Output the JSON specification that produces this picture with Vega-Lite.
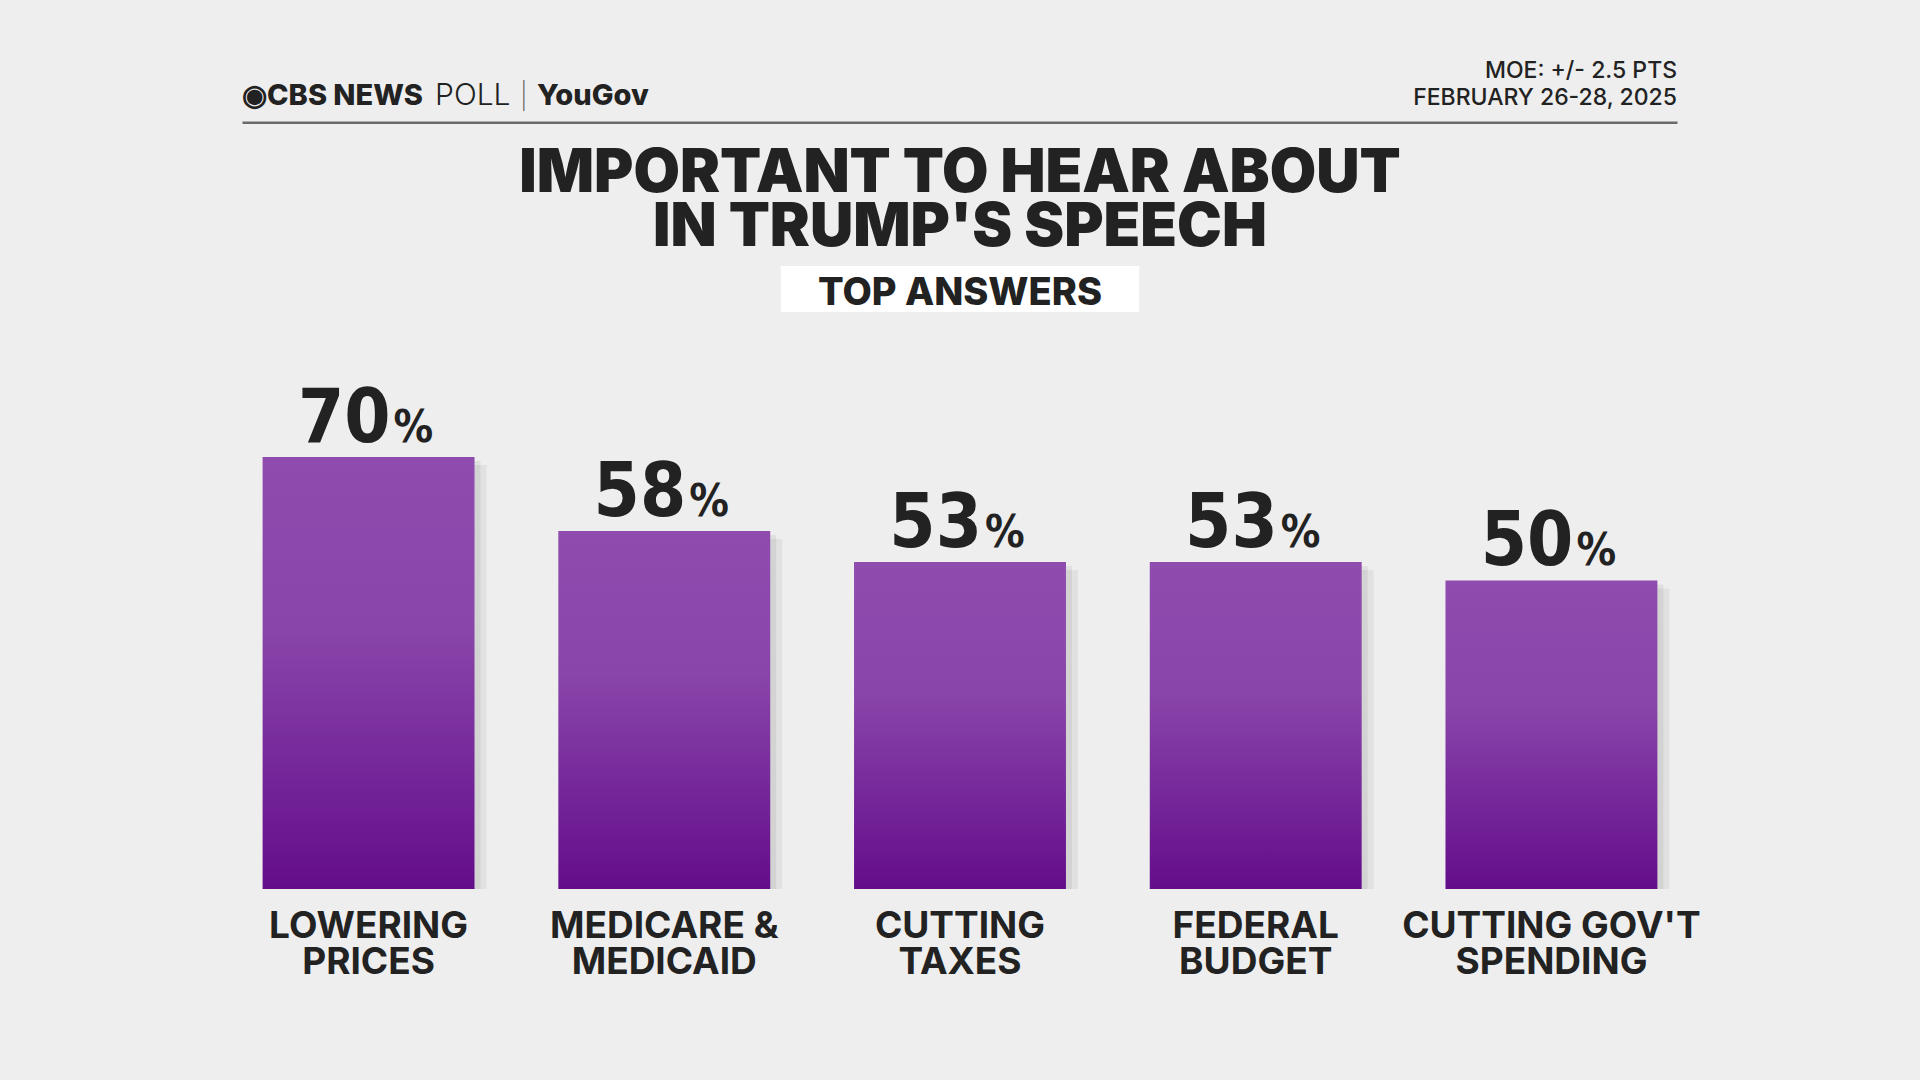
{
  "$schema": "https://vega.github.io/schema/vega-lite/v6.json",
  "width": 1920,
  "height": 1080,
  "autosize": {"type": "fit", "contains": "padding"},
  "padding": 0,
  "background": "#eeeeee",
  "config": {"view": {"stroke": null}, "text": {"font": "Inter", "color": "#222222"}},
  "datasets": {
    "answers": [
      {"answer": "LOWERING PRICES", "label": ["LOWERING", "PRICES"], "pct": 70},
      {"answer": "MEDICARE & MEDICAID", "label": ["MEDICARE &", "MEDICAID"], "pct": 58},
      {"answer": "CUTTING TAXES", "label": ["CUTTING", "TAXES"], "pct": 53},
      {"answer": "FEDERAL BUDGET", "label": ["FEDERAL", "BUDGET"], "pct": 53},
      {"answer": "CUTTING GOV'T SPENDING", "label": ["CUTTING GOV'T", "SPENDING"], "pct": 50}
    ],
    "header": [{"brand": "◉CBS NEWS", "poll": "POLL", "sep": "|", "partner": "YouGov", "moe": ["MOE: +/- 2.5 PTS", "FEBRUARY 26-28, 2025"]}],
    "titles": [{"title": ["IMPORTANT TO HEAR ABOUT", "IN TRUMP'S SPEECH"], "tag": "TOP ANSWERS"}]
  },
  "layer": [
    {
      "data": {"name": "answers"},
      "mark": {"type": "bar", "color": "#000000", "opacity": 0.05, "xOffset": 12, "yOffset": 8},
      "encoding": {
        "x": {
          "field": "answer", "type": "nominal", "sort": null, "axis": null,
          "scale": {
            "domain": ["LOWERING PRICES", "MEDICARE & MEDICAID", "CUTTING TAXES", "FEDERAL BUDGET", "CUTTING GOV'T SPENDING"],
            "paddingInner": 0.2834, "paddingOuter": 0.888
          }
        },
        "y": {"field": "pct", "type": "quantitative", "axis": null, "scale": {"domain": [-30.96, 144.08], "nice": false, "zero": false}},
        "y2": {"datum": 0}
      }
    },
    {
      "data": {"name": "answers"},
      "mark": {"type": "bar", "color": "#000000", "opacity": 0.06, "xOffset": 6, "yOffset": 4},
      "encoding": {
        "x": {"field": "answer", "type": "nominal", "sort": null, "axis": null},
        "y": {"field": "pct", "type": "quantitative", "axis": null},
        "y2": {"datum": 0}
      }
    },
    {
      "data": {"name": "answers"},
      "mark": {
        "type": "bar",
        "color": {
          "gradient": "linear",
          "x1": 0, "y1": 0, "x2": 0, "y2": 1,
          "stops": [
            {"offset": 0, "color": "#8f4bae"},
            {"offset": 0.4, "color": "#8945aa"},
            {"offset": 1, "color": "#640d8b"}
          ]
        }
      },
      "encoding": {
        "x": {"field": "answer", "type": "nominal", "sort": null, "axis": null},
        "y": {"field": "pct", "type": "quantitative", "axis": null},
        "y2": {"datum": 0}
      }
    },
    {
      "data": {"name": "answers"},
      "mark": {"type": "text", "font": "DejaVu Sans Condensed", "fontWeight": "bold", "fontSize": 74, "align": "right", "baseline": "alphabetic", "dx": 22, "dy": -15, "color": "#222222"},
      "encoding": {
        "x": {"field": "answer", "type": "nominal", "sort": null, "axis": null},
        "y": {"field": "pct", "type": "quantitative", "axis": null},
        "text": {"field": "pct", "type": "quantitative"}
      }
    },
    {
      "data": {"name": "answers"},
      "mark": {"type": "text", "font": "DejaVu Sans Condensed", "fontWeight": "bold", "fontSize": 44, "align": "left", "baseline": "alphabetic", "dx": 25, "dy": -15, "text": "%", "color": "#222222"},
      "encoding": {
        "x": {"field": "answer", "type": "nominal", "sort": null, "axis": null},
        "y": {"field": "pct", "type": "quantitative", "axis": null}
      }
    },
    {
      "data": {"name": "answers"},
      "mark": {"type": "text", "font": "Inter", "fontWeight": 700, "fontSize": 37, "lineHeight": 36, "align": "center", "baseline": "alphabetic", "dy": 49, "color": "#222222"},
      "encoding": {
        "x": {"field": "answer", "type": "nominal", "sort": null, "axis": null},
        "y": {"datum": 0, "axis": null},
        "text": {"field": "label"}
      }
    },
    {
      "data": {"name": "header"},
      "mark": {"type": "tick", "orient": "horizontal", "size": 1435, "thickness": 2.5, "color": "#6a6a6a", "opacity": 1},
      "encoding": {
        "x": {"datum": "CUTTING TAXES", "axis": null},
        "y": {"datum": 124.2, "axis": null}
      }
    },
    {
      "data": {"name": "header"},
      "mark": {"type": "text", "font": "Inter", "fontWeight": 800, "fontSize": 29, "align": "left", "baseline": "alphabetic"},
      "encoding": {
        "x": {"datum": "LOWERING PRICES", "bandPosition": -0.097, "axis": null},
        "y": {"datum": 127.1, "axis": null},
        "text": {"field": "brand"}
      }
    },
    {
      "data": {"name": "header"},
      "mark": {"type": "text", "font": "Inter", "fontWeight": 300, "fontSize": 30, "align": "left", "baseline": "alphabetic", "dx": 193},
      "encoding": {
        "x": {"datum": "LOWERING PRICES", "bandPosition": -0.097, "axis": null},
        "y": {"datum": 127.1, "axis": null},
        "text": {"field": "poll"}
      }
    },
    {
      "data": {"name": "header"},
      "mark": {"type": "text", "font": "Inter", "fontWeight": 200, "fontSize": 26, "align": "left", "baseline": "alphabetic", "dx": 278, "color": "#555555"},
      "encoding": {
        "x": {"datum": "LOWERING PRICES", "bandPosition": -0.097, "axis": null},
        "y": {"datum": 127.1, "axis": null},
        "text": {"field": "sep"}
      }
    },
    {
      "data": {"name": "header"},
      "mark": {"type": "text", "font": "Inter", "fontWeight": 800, "fontSize": 29, "align": "left", "baseline": "alphabetic", "dx": 295},
      "encoding": {
        "x": {"datum": "LOWERING PRICES", "bandPosition": -0.097, "axis": null},
        "y": {"datum": 127.1, "axis": null},
        "text": {"field": "partner"}
      }
    },
    {
      "data": {"name": "header"},
      "mark": {"type": "text", "font": "Inter", "fontWeight": 500, "fontSize": 23, "lineHeight": 27, "align": "right", "baseline": "alphabetic"},
      "encoding": {
        "x": {"datum": "CUTTING GOV'T SPENDING", "bandPosition": 1.0925, "axis": null},
        "y": {"datum": 131.4, "axis": null},
        "text": {"field": "moe"}
      }
    },
    {
      "data": {"name": "titles"},
      "mark": {"type": "text", "font": "Inter", "fontWeight": 900, "fontSize": 60, "lineHeight": 54, "align": "center", "baseline": "alphabetic"},
      "encoding": {
        "x": {"datum": "CUTTING TAXES", "bandPosition": 0.5, "axis": null},
        "y": {"datum": 113.0, "axis": null},
        "text": {"field": "title"}
      }
    },
    {
      "data": {"name": "titles"},
      "mark": {"type": "bar", "width": 359, "color": "#000000", "opacity": 0.12, "yOffset": 3},
      "encoding": {
        "x": {"datum": "CUTTING TAXES", "axis": null},
        "y": {"datum": 100.97, "axis": null},
        "y2": {"datum": 93.52}
      }
    },
    {
      "data": {"name": "titles"},
      "mark": {"type": "bar", "width": 359, "color": "#ffffff"},
      "encoding": {
        "x": {"datum": "CUTTING TAXES", "axis": null},
        "y": {"datum": 100.97, "axis": null},
        "y2": {"datum": 93.52}
      }
    },
    {
      "data": {"name": "titles"},
      "mark": {"type": "text", "font": "Inter", "fontWeight": 800, "fontSize": 38, "align": "center", "baseline": "alphabetic"},
      "encoding": {
        "x": {"datum": "CUTTING TAXES", "bandPosition": 0.5, "axis": null},
        "y": {"datum": 94.65, "axis": null},
        "text": {"field": "tag"}
      }
    }
  ]
}
